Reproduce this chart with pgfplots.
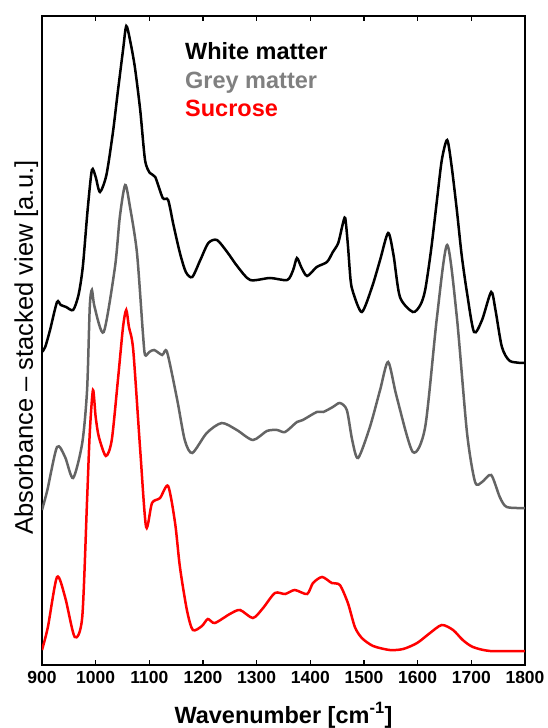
\documentclass[border=0pt]{standalone}
\usepackage{fontspec}
\setmainfont{Liberation Sans}
\usepackage{pgfplots}
\pgfplotsset{compat=1.18}
\definecolor{greyline}{HTML}{646464}
\definecolor{greytext}{HTML}{808080}
\begin{document}
\begin{tikzpicture}
\useasboundingbox (-42pt,-63pt) rectangle (505pt,665pt);
\begin{axis}[
  scale only axis,
  width=483pt, height=649pt,
  xmin=900, xmax=1800, ymin=0, ymax=649,
  xtick={900,1000,...,1800},
  ytick=\empty,
  tick align=inside,
  major tick length=5pt,
  every tick/.style={line width=1.3pt, black},
  axis line style={line width=1.6pt},
  /pgf/number format/assume math mode=true,
  /pgf/number format/1000 sep={},
  tick label style={font=\fontsize{17.5}{20}\selectfont\bfseries},
  xticklabel style={yshift=-3pt},
  xlabel={Wavenumber [cm\textsuperscript{-1}]},
  xlabel style={font=\fontsize{23.5}{26}\selectfont\bfseries, at={([yshift=-58pt]axis description cs:0.5,0)}, anchor=base},
  ylabel={Absorbance -- stacked view [a.u.]},
  ylabel style={font=\fontsize{25.5}{28}\selectfont, at={([xshift=-9pt]axis description cs:0,0.489)}, anchor=base},
  clip=true,
]
% White matter
\addplot[black, line width=2.5pt, smooth, tension=0.45] coordinates {
(900,313) (906,318) (915,335) (928,363) (935,360) (945,358) (958,355) (968,370) (976,398)
(985,455) (993,495) (1000,488) (1008,473) (1020,490) (1032,532) (1041,572) (1051,615)
(1057,639) (1064,625) (1073,598) (1083,555) (1092,505) (1101,492) (1111,488) (1125,467)
(1135,465) (1145,440) (1157,412) (1168,393) (1180,388) (1195,405) (1210,422) (1226,425)
(1245,413) (1265,398) (1288,385) (1325,387) (1357,385) (1368,395) (1375,407) (1383,398)
(1394,389) (1412,398) (1431,403) (1442,413) (1452,422) (1460,440) (1465,447) (1470,420)
(1475,385) (1480,372) (1496,353) (1515,378) (1530,405) (1545,432) (1555,410) (1567,368)
(1591,353) (1605,360) (1614,375) (1625,415) (1636,465) (1645,505) (1655,525) (1663,500)
(1673,455) (1682,410) (1692,372) (1705,333) (1720,345) (1737,373) (1745,355) (1757,318)
(1772,304) (1800,302)
};
% Grey matter
\addplot[greyline, line width=2.5pt, smooth, tension=0.45] coordinates {
(900,155) (910,175) (928,218) (943,208) (958,187) (975,222) (984,275) (989,358) (993,375)
(998,358) (1015,333) (1036,398) (1045,448) (1055,480) (1064,458) (1077,412) (1088,332)
(1092,310) (1100,313) (1109,315) (1124,310) (1133,313) (1152,265) (1166,225) (1180,212)
(1207,232) (1235,242) (1263,235) (1293,225) (1319,234) (1338,235) (1353,233) (1375,243)
(1386,245) (1412,253) (1424,253) (1442,258) (1455,262) (1468,255) (1478,225) (1489,207)
(1511,238) (1530,275) (1545,303) (1561,268) (1591,213) (1614,238) (1636,348) (1655,420)
(1673,348) (1692,232) (1707,183) (1720,183) (1737,190) (1753,168) (1766,158) (1800,157)
};
% Sucrose
\addplot[red, line width=2.5pt, smooth, tension=0.45] coordinates {
(900,15) (911,38) (928,88) (943,68) (961,28) (975,48) (984,165) (989,232) (995,275)
(1000,248) (1006,228) (1019,209) (1030,225) (1042,288) (1051,338) (1057,355) (1062,338)
(1070,315) (1083,215) (1094,138) (1105,162) (1120,167) (1135,179) (1148,142) (1157,98)
(1170,55) (1181,35) (1198,39) (1209,46) (1222,42) (1250,51) (1269,55) (1293,47) (1312,57)
(1334,72) (1353,71) (1371,75) (1394,71) (1405,82) (1422,88) (1440,82) (1455,80) (1470,62)
(1483,38) (1496,27) (1517,19) (1548,15) (1573,16) (1599,22) (1623,32) (1645,40) (1666,35)
(1684,25) (1703,18) (1735,14) (1800,14)
};
\node[anchor=base west, font=\fontsize{23.5}{26}\selectfont\bfseries, text=black, inner sep=0pt] at (rel axis cs:0.296,0.9337) {White matter};
\node[anchor=base west, font=\fontsize{23.5}{26}\selectfont\bfseries, text=greytext, inner sep=0pt] at (rel axis cs:0.296,0.889) {Grey matter};
\node[anchor=base west, font=\fontsize{23.5}{26}\selectfont\bfseries, text=red, inner sep=0pt] at (rel axis cs:0.296,0.8444) {Sucrose};
\end{axis}
\end{tikzpicture}
\end{document}
